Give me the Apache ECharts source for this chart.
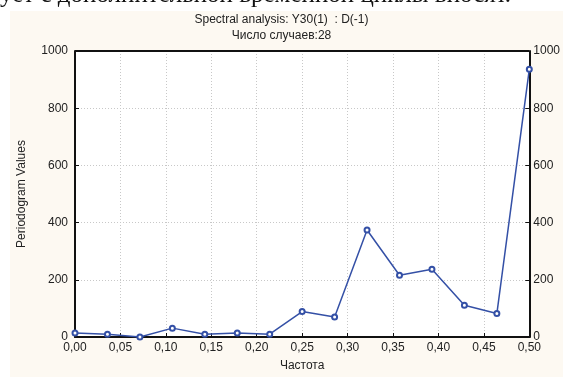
<!DOCTYPE html>
<html>
<head>
<meta charset="utf-8">
<script src="https://cdn.jsdelivr.net/npm/echarts@6/dist/echarts.min.js"></script>
<style>
  html, body { margin: 0; padding: 0; background: #fff; }
  #main { width: 563px; height: 377px; }
</style>
</head>
<body>
<div id="main"></div>
<script>
// frequencies k/28, k = 0..14
var freqs = [0, 1/28, 2/28, 3/28, 4/28, 5/28, 6/28, 7/28, 8/28, 9/28, 10/28, 11/28, 12/28, 13/28, 14/28];
var periodogram = [14, 10, 0, 31, 10, 14, 10, 89, 70, 374, 216, 237, 111, 82, 936];
var yTicks = [0, 200, 400, 600, 800, 1000];

var chart = echarts.init(document.getElementById('main'));

var labelFont = { fontFamily: 'Liberation Sans', fontSize: 12, color: '#222' };

var option = {
    animation: false,
    backgroundColor: '#fff',
    graphic: [
        {
            type: 'rect', z: -10, silent: true,
            shape: { x: 10, y: 11, width: 553, height: 366 },
            style: { fill: '#fdf9f2' }
        },
        {
            type: 'text', left: 0, top: -17, z: 10, silent: true,
            style: {
                text: 'ует с дополнительной временной циклы вносят.',
                font: '25px "Liberation Serif"', fill: '#111'
            }
        },
        {
            type: 'text', left: 'center', top: 14,
            style: { text: 'Spectral analysis: Y30(1)  : D(-1)', font: '12px "Liberation Sans"', fill: '#222' }
        },
        {
            type: 'text', left: 'center', top: 30,
            style: { text: 'Число случаев:28', font: '12px "Liberation Sans"', fill: '#222' }
        }
    ],
    grid: {
        left: 75, right: 31, top: 51, bottom: 34,
        show: true, backgroundColor: '#fff', borderColor: '#111', borderWidth: 0
    },
    xAxis: {
        type: 'value', min: 0, max: 0.5, interval: 0.05,
        name: 'Частота', nameLocation: 'middle', nameGap: 23,
        nameTextStyle: labelFont,
        axisLine: { show: true, onZero: false, lineStyle: { color: '#111', width: 2 } },
        axisTick: { show: true, inside: true, length: 4, lineStyle: { color: '#111' } },
        axisLabel: Object.assign({
            margin: 5,
            formatter: function (v) { return v.toFixed(2).replace('.', ','); }
        }, labelFont),
        splitLine: { show: true, lineStyle: { color: '#c8c8c8', type: [1, 2], width: 1 } }
    },
    yAxis: [
        {
            type: 'value', min: 0, max: 1000, interval: 200, position: 'left',
            name: 'Periodogram Values', nameLocation: 'middle', nameGap: 47,
            nameTextStyle: labelFont,
            axisLine: { show: true, lineStyle: { color: '#111', width: 2 } },
            axisTick: { show: true, inside: true, length: 4, lineStyle: { color: '#111' } },
            axisLabel: Object.assign({
                margin: 7,
                formatter: function (v) { return yTicks.indexOf(v) >= 0 ? String(v) : ''; }
            }, labelFont),
            splitLine: { show: true, lineStyle: { color: '#c8c8c8', type: [1, 2], width: 1 } }
        },
        {
            type: 'value', min: 0, max: 1000, interval: 200, position: 'right',
            axisLine: { show: true, lineStyle: { color: '#111', width: 2 } },
            axisTick: { show: true, inside: true, length: 4, lineStyle: { color: '#111' } },
            axisLabel: Object.assign({
                margin: 4,
                formatter: function (v) { return String(v); }
            }, labelFont),
            splitLine: { show: false }
        }
    ],
    series: [
        {
            type: 'line',
            data: freqs.map(function (f, i) { return [f, periodogram[i]]; }),
            symbol: 'emptyCircle', symbolSize: 5,
            lineStyle: { color: '#3450a6', width: 1.5 },
            itemStyle: { color: '#3450a6', borderColor: '#3450a6', borderWidth: 2 },
            clip: false
        },
        {
            // top border of the plot frame
            type: 'line', yAxisIndex: 1, data: [[0, 1000], [0.5, 1000]],
            symbol: 'none', silent: true,
            lineStyle: { color: '#111', width: 2 }
        }
    ]
};

chart.setOption(option);
</script>
</body>
</html>
